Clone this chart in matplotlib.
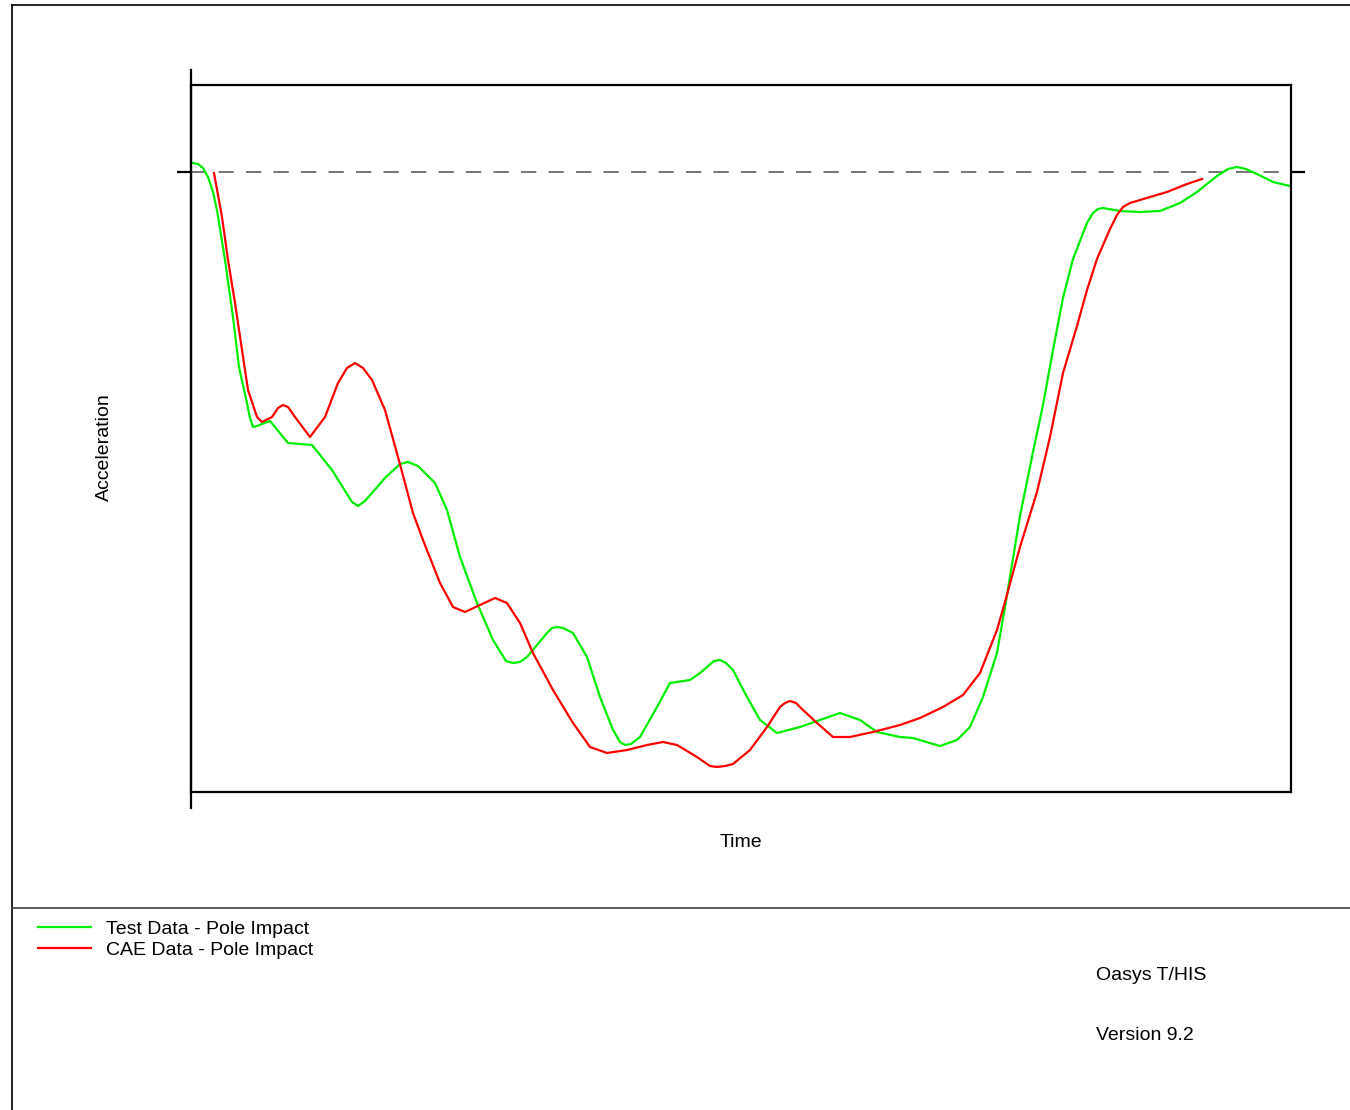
import matplotlib
matplotlib.use("Agg")
import matplotlib.pyplot as plt
from matplotlib.lines import Line2D

plt.rcParams["font.family"] = ["Liberation Sans", "DejaVu Sans"]

# Test data (time, acceleration)
test_time = [0.2, 0.7, 1.2, 1.7, 2.2, 2.6, 3.4, 4.2, 4.8, 5.6, 5.9, 6.2, 6.6, 7.1, 7.9,
             9.7, 12.1, 14.1, 16.1, 16.7, 17.4, 19.4, 20.9, 21.7, 22.7, 24.4, 25.6,
             26.9, 28.6, 30.2, 31.5, 32.2, 32.9, 33.6, 35.6, 36.1, 36.6, 37.2, 38.2,
             39.6, 40.9, 42.2, 42.9, 43.4, 44.0, 44.9, 46.6, 47.9, 49.9, 50.9, 52.3,
             52.9, 53.5, 54.2, 55.6, 56.9, 58.6, 60.9, 62.9, 64.9, 66.9, 68.6, 70.9,
             72.2, 74.9, 76.6, 77.9, 79.2, 80.6, 81.6, 82.9, 84.2, 85.2, 86.2, 87.2,
             88.2, 89.6, 90.2, 90.7, 91.2, 92.9, 94.9, 96.9, 98.9, 100.6, 102.6,
             103.7, 104.6, 105.5, 106.6, 108.2, 109.9]
test_acc = [0.9, 0.8, 0.4, -0.5, -2.0, -3.8, -8.8, -14.5, -19.5, -23.1, -24.6, -25.5,
            -25.4, -25.2, -24.9, -27.1, -27.3, -29.8, -33.0, -33.4, -32.9, -30.6, -29.2,
            -29.0, -29.4, -31.1, -33.8, -38.5, -43.1, -46.8, -48.9, -49.1, -49.0, -48.5,
            -46.1, -45.6, -45.5, -45.6, -46.1, -48.5, -52.5, -55.8, -57.0, -57.3, -57.2,
            -56.5, -53.5, -51.1, -50.8, -50.1, -48.9, -48.8, -49.1, -49.8, -52.5, -54.8,
            -56.1, -55.5, -54.8, -54.1, -54.8, -56.0, -56.5, -56.6, -57.4, -56.8, -55.5,
            -52.5, -48.1, -42.3, -34.4, -28.0, -23.3, -17.8, -12.6, -8.7, -5.1, -4.1,
            -3.7, -3.6, -3.9, -4.0, -3.9, -3.1, -2.0, -0.4, 0.3, 0.5, 0.3, -0.2, -1.0,
            -1.4]

# CAE data
cae_time = [2.3, 3.1, 3.7, 4.4, 5.1, 5.7, 6.6, 7.1, 8.1, 8.7, 9.2, 9.7, 10.4, 11.9,
            13.4, 14.7, 15.6, 16.4, 17.2, 18.1, 19.4, 20.7, 22.2, 23.2, 24.9, 26.2,
            27.4, 28.9, 30.4, 31.6, 32.9, 34.2, 36.2, 38.2, 39.9, 41.6, 43.6, 45.6,
            47.2, 48.6, 50.6, 51.9, 52.6, 53.4, 54.2, 55.9, 57.6, 58.9, 59.4, 59.9,
            60.5, 61.2, 62.6, 64.2, 65.9, 68.2, 70.9, 72.9, 75.2, 77.2, 78.9, 80.6,
            81.4, 82.9, 84.6, 85.9, 87.2, 88.6, 89.6, 90.6, 91.9, 92.6, 93.2, 93.9,
            94.9, 97.6, 99.6, 101.1]
cae_acc = [-0.1, -4.5, -8.8, -13.1, -17.8, -21.8, -24.5, -25.0, -24.5, -23.6, -23.3,
           -23.5, -24.5, -26.5, -24.5, -21.1, -19.6, -19.1, -19.6, -20.8, -23.8, -28.5,
           -34.1, -36.8, -41.1, -43.5, -44.0, -43.3, -42.6, -43.1, -45.1, -48.1, -51.8,
           -55.1, -57.5, -58.1, -57.8, -57.3, -57.0, -57.3, -58.5, -59.4, -59.5, -59.4,
           -59.2, -57.8, -55.5, -53.5, -53.1, -52.9, -53.1, -53.8, -55.1, -56.5, -56.5,
           -56.0, -55.3, -54.6, -53.5, -52.3, -50.1, -45.8, -43.0, -37.5, -32.0, -26.5,
           -20.1, -15.4, -11.8, -8.7, -5.7, -4.3, -3.5, -3.1, -2.8, -2.0, -1.2, -0.7]

FS = 14

fig = plt.figure(figsize=(13.5, 11.1), dpi=100)
ax = fig.add_axes([191 / 1350, 1 - 792 / 1110, 1100 / 1350, 707 / 1110])

ax.plot(test_time, test_acc, color="#00ee00", lw=1.6, label="Test Data - Pole Impact")
ax.plot(cae_time, cae_acc, color="#ff0000", lw=1.6, label="CAE Data - Pole Impact")
ax.axhline(0, color="#505050", lw=1.1, dashes=(10, 8), zorder=0)

ax.set_xlim(0, 110)
ax.set_ylim(-62, 8.7)
ax.set_xticks([])
ax.set_yticks([0])
ax.tick_params(axis="y", left=True, right=True, length=10, width=1.6,
               labelleft=False, direction="out")
for s in ax.spines.values():
    s.set_linewidth(1.6)

# left axis sticks out above and below the box
ax.add_line(Line2D([0, 0], [-16 / 707, 1 + 15 / 707], transform=ax.transAxes,
                   color="black", lw=1.6, clip_on=False))

ax.set_ylabel("Acceleration", fontsize=FS, labelpad=46)
ax.yaxis.label.set_y(0.488)
ax.set_xlabel("Time", fontsize=FS, labelpad=30)

# page frame and separator
fig.add_artist(Line2D([12 / 1350, 1], [1 - 5 / 1110, 1 - 5 / 1110], color="black", lw=1.2))
fig.add_artist(Line2D([12 / 1350, 12 / 1350], [0, 1 - 5 / 1110], color="black", lw=1.2))
fig.add_artist(Line2D([12 / 1350, 1], [1 - 908 / 1110, 1 - 908 / 1110],
                      color="#404040", lw=1.2))

fig.legend(loc="upper left", bbox_to_anchor=(38 / 1350, 1 - 920 / 1110),
           frameon=False, fontsize=FS, handlelength=2.7, handletextpad=0.8,
           labelspacing=0.19, borderpad=0, borderaxespad=0)

fig.text(1096 / 1350, 1 - 975 / 1110, "Oasys T/HIS", fontsize=FS, va="center")
fig.text(1096 / 1350, 1 - 1035 / 1110, "Version 9.2", fontsize=FS, va="center")

fig.savefig("out.png", dpi=100, facecolor="white")
